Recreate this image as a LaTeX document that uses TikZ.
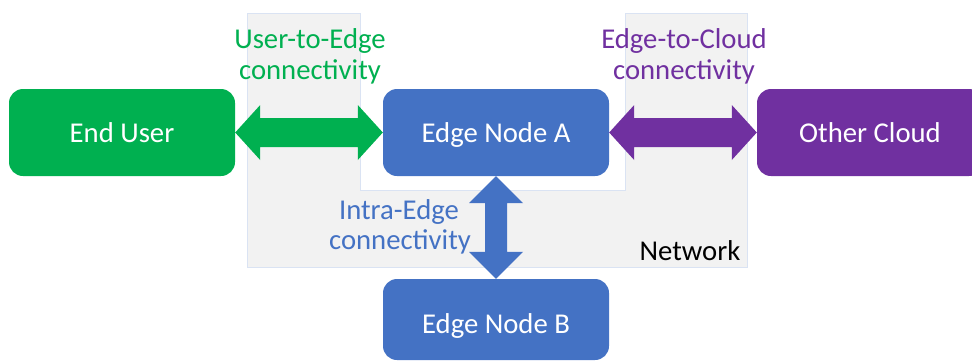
\documentclass[tikz,border=0pt]{standalone}
\usepackage{fontspec}
\setmainfont{Carlito}
\usetikzlibrary{calc}
\definecolor{cgreen}{HTML}{00B050}
\definecolor{cblue}{HTML}{4472C4}
\definecolor{cpurple}{HTML}{7030A0}
\definecolor{cgray}{HTML}{F2F2F2}
\definecolor{cborder}{HTML}{DAE3F3}
\tikzset{
  box/.style={rounded corners=14pt, inner sep=0pt, minimum width=226pt, minimum height=87pt,
    text=white, font=\fontsize{28.7}{34}\selectfont, text height=20pt, text depth=0pt},
  lbl/.style={anchor=base, inner sep=0pt, font=\fontsize{28.7}{34}\selectfont},
}
\begin{document}
\begin{tikzpicture}[x=1pt,y=-1pt]
\clip (0,0) rectangle (972,360);
\useasboundingbox (0,0) rectangle (972,360);
% network region
\filldraw[fill=cgray, draw=cborder, line width=0.8pt]
  (247,13) -- (360,13) -- (360,190) -- (625,190) -- (625,13) -- (747,13) -- (747,267) -- (247,267) -- cycle;
% boxes
\node[box, fill=cgreen] (eu) at (122,132.5) {End User};
\node[box, fill=cblue] (ea) at (496,132.5) {Edge Node A};
\node[box, fill=cpurple] (oc) at (870,132.5) {Other Cloud};
\node[box, fill=cblue, minimum height=81pt, text height=27pt] (eb) at (496,319.5) {Edge Node B};
% arrows
\fill[cgreen] (eu.east) -- ($(eu.east)+(25,-27.5)$) -- ($(eu.east)+(25,-14.5)$) -- ($(ea.west)+(-25,-14.5)$)
  -- ($(ea.west)+(-25,-27.5)$) -- (ea.west) -- ($(ea.west)+(-25,27.5)$) -- ($(ea.west)+(-25,14.5)$)
  -- ($(eu.east)+(25,14.5)$) -- ($(eu.east)+(25,27.5)$) -- cycle;
\fill[cpurple] (ea.east) -- ($(ea.east)+(25,-27.5)$) -- ($(ea.east)+(25,-14.5)$) -- ($(oc.west)+(-25,-14.5)$)
  -- ($(oc.west)+(-25,-27.5)$) -- (oc.west) -- ($(oc.west)+(-25,27.5)$) -- ($(oc.west)+(-25,14.5)$)
  -- ($(ea.east)+(25,14.5)$) -- ($(ea.east)+(25,27.5)$) -- cycle;
\fill[cblue] (ea.south) -- ($(ea.south)+(27,27)$) -- ($(ea.south)+(11,27)$) -- ($(eb.north)+(11,-27)$)
  -- ($(eb.north)+(27,-27)$) -- (eb.north) -- ($(eb.north)+(-27,-27)$) -- ($(eb.north)+(-11,-27)$)
  -- ($(ea.south)+(-11,27)$) -- ($(ea.south)+(-27,27)$) -- cycle;
% labels
\node[lbl, text=cgreen] (u1) at (310,48) {User-to-Edge};
\node[lbl, text=cgreen] (u2) at (310,79) {connectivity};
\node[lbl, text=cpurple] (c1) at (684,48) {Edge-to-Cloud};
\node[lbl, text=cpurple] (c2) at (684,79) {connectivity};
\node[lbl, text=cblue] (i1) at (399,219) {Intra-Edge};
\node[lbl, text=cblue] (i2) at (400,249) {connectivity};
\node[lbl, text=black] (nw) at (690,260) {Network};
\end{tikzpicture}
\end{document}
